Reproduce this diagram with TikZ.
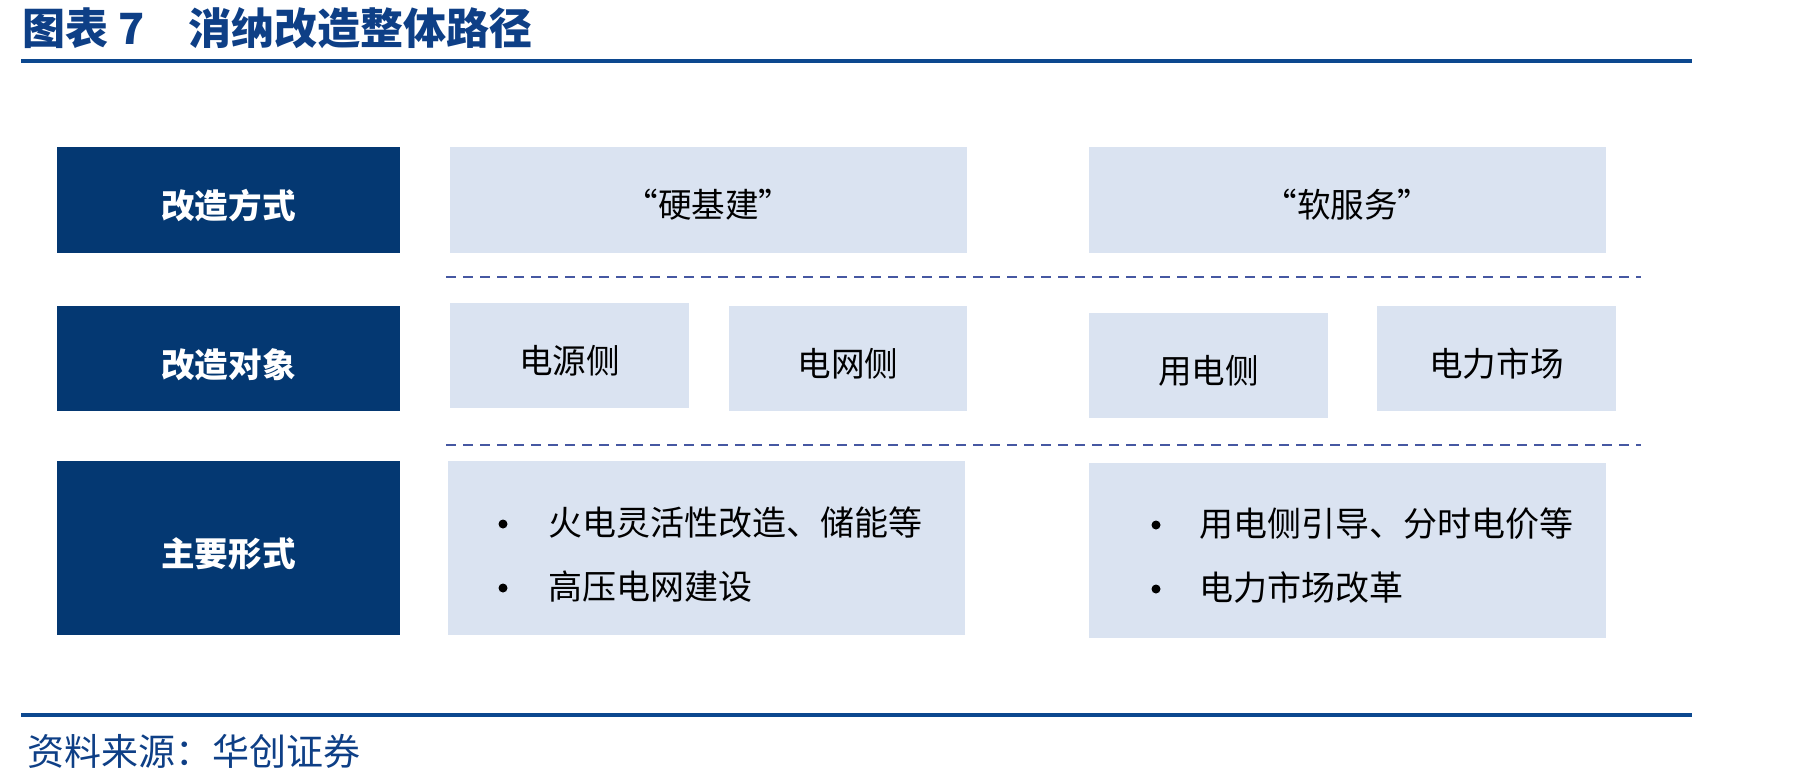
\documentclass[tikz,border=0pt]{standalone}
\usepackage{fontspec}
\newfontfamily\cjk{Noto Sans CJK SC}
\usetikzlibrary{fit}
\definecolor{navy}{RGB}{4,56,114}
\definecolor{lightbg}{RGB}{218,227,241}
\definecolor{titleblue}{RGB}{14,63,134}
\definecolor{rulecol}{RGB}{12,72,143}
\definecolor{dashcol}{RGB}{70,88,162}
\begin{document}
\begin{tikzpicture}[x=0.5pt,y=-0.5pt,
  darkbox/.style={fill=navy,inner sep=0pt},
  lightbox/.style={fill=lightbg,inner sep=0pt},
  darklabel/.style={anchor=center,inner sep=0pt,yshift=-3pt,text=white,font=\cjk\fontsize{16.8}{19}\selectfont\bfseries},
  lightlabel/.style={anchor=center,inner sep=0pt,yshift=-2.5pt,text=black,font=\cjk\fontsize{16.8}{20}\selectfont},
  itemtext/.style={anchor=west,inner sep=0pt,text=black,font=\cjk\fontsize{17}{20}\selectfont},
  dot/.style={circle,fill=black,inner sep=0pt,minimum size=4.5pt},
  sepline/.style={dashcol,line width=1.3pt,dash pattern=on 5pt off 3.5pt},
  rule/.style={rulecol,line width=2pt}]
\useasboundingbox (0,0) rectangle (1801,783);
% title
\node[anchor=west,inner sep=0pt,text=titleblue,font=\cjk\fontsize{21.5}{24}\selectfont\bfseries] (title) at (22,28) {图表 7\hspace{22pt}消纳改造整体路径};
\coordinate (r1a) at (21,61); \coordinate (r1b) at (1692,61);
\draw[rule] (r1a) -- (r1b);
% row 1
\node[darkbox,fit={(57,147)(400,253)}] (h1) {};
\node[darklabel] (h1t) at (h1.center) {改造方式};
\node[lightbox,fit={(450,147)(967,253)}] (hard) {};
\node[lightlabel] (hardt) at (hard.center) {“硬基建”};
\node[lightbox,fit={(1089,147)(1606,253)}] (soft) {};
\node[lightlabel] (softt) at (soft.center) {“软服务”};
\coordinate (d1a) at (446,277); \coordinate (d1b) at (1641,277);
\draw[sepline] (d1a) -- (d1b);
% row 2
\node[darkbox,fit={(57,306)(400,411)}] (h2) {};
\node[darklabel] (h2t) at (h2.center) {改造对象};
\node[lightbox,fit={(450,303)(689,408)}] (gen) {};
\node[lightlabel] (gent) at (gen.center) {电源侧};
\node[lightbox,fit={(729,306)(967,411)}] (grid) {};
\node[lightlabel] (gridt) at (grid.center) {电网侧};
\node[lightbox,fit={(1089,313)(1328,418)}] (user) {};
\node[lightlabel] (usert) at (user.center) {用电侧};
\node[lightbox,fit={(1377,306)(1616,411)}] (market) {};
\node[lightlabel] (marktt) at (market.center) {电力市场};
\coordinate (d2a) at (446,445); \coordinate (d2b) at (1641,445);
\draw[sepline] (d2a) -- (d2b);
% row 3
\node[darkbox,fit={(57,461)(400,635)}] (h3) {};
\node[darklabel] (h3t) at (h3.center) {主要形式};
\node[lightbox,fit={(448,461)(965,635)}] (left3) {};
\node[lightbox,fit={(1089,463)(1606,638)}] (right3) {};
\node[dot] (lb1) at (503,524) {};
\node[itemtext] (lt1) at (548,523) {火电灵活性改造、储能等};
\node[dot] (lb2) at (503,588) {};
\node[itemtext] (lt2) at (548,587) {高压电网建设};
\node[dot] (rb1) at (1156,525) {};
\node[itemtext] (rt1) at (1199,524) {用电侧引导、分时电价等};
\node[dot] (rb2) at (1156,589) {};
\node[itemtext] (rt2) at (1199,588) {电力市场改革};
% bottom
\coordinate (r2a) at (21,715); \coordinate (r2b) at (1692,715);
\draw[rule] (r2a) -- (r2b);
\node[anchor=west,inner sep=0pt,text=titleblue,font=\cjk\fontsize{18.5}{22}\selectfont] (src) at (27,751) {资料来源：华创证券};
\end{tikzpicture}
\end{document}
